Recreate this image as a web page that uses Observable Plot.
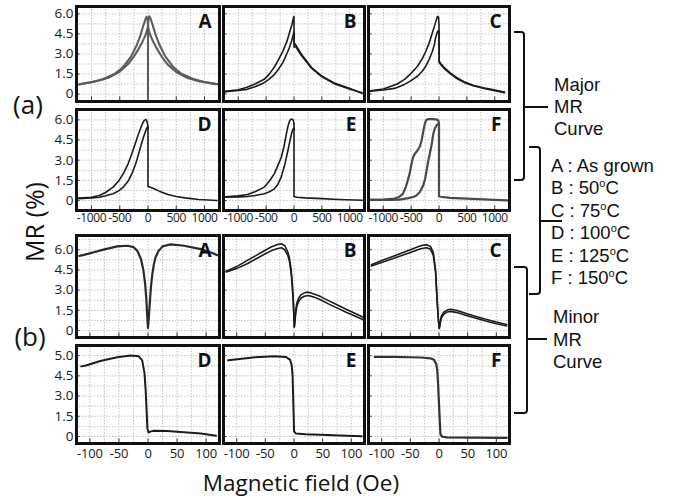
<!DOCTYPE html>
<html><head><meta charset="utf-8">
<script src="https://cdn.jsdelivr.net/npm/d3@7"></script>
<script src="https://cdn.jsdelivr.net/npm/@observablehq/plot@0.6"></script>
<style>
body{margin:0;background:#fff;}
#wrap{position:relative;width:675px;height:502px;overflow:hidden;background:#fff;}
#wrap svg{position:absolute;}
</style></head><body><div id="wrap"></div>
<script>
// ---------- tick labels ----------
const majorXTicks = [-1000, -500, 0, 500, 1000];
const majorXLabels = ["-1000", "-500", "0", "500", "1000"];
const minorXTicks = [-100, -50, 0, 50, 100];
const minorXLabels = ["-100", "-50", "0", "50", "100"];
const yTicks = [0, 1.5, 3, 4.5, 6];
const yLabelsRow1 = ["0", "1.5", "3.0", "4.5", "6.0"];
const yLabelsRow2 = ["0", "1.5", "3.0", "4.5", "6.0"];
const yLabelsRow3 = ["0", "1.5", "3.0", "4.5", "6.0"];
const yLabelsRow4 = ["0", "1.5", "3.0", "4.5", "5.0"];
const panelLetters = ["A", "B", "C", "D", "E", "F"];
const legendSamples = ["A", "B", "C", "D", "E", "F"];
const legendTemps = ["As grown", "50", "75", "100", "125", "150"];

// ---------- Major MR curves (field in Oe, MR in %) ----------
const majorA1 = [[-1250,0.7],[-1000,0.88],[-800,1.1],[-600,1.48],[-450,1.98],[-300,2.8],[-200,3.65],[-130,4.45],[-80,5.15],[-45,5.6],[-25,5.78],[-10,5.65],[0,5.1],[15,4.75],[50,4.3],[100,3.85],[170,3.3],[250,2.75],[350,2.2],[500,1.65],[700,1.2],[900,0.95],[1200,0.74]];
const majorA2 = [[-1200,0.74],[-900,0.97],[-700,1.22],[-500,1.68],[-350,2.25],[-250,2.8],[-170,3.35],[-100,3.9],[-50,4.35],[-15,4.8],[0,5.1],[10,5.7],[25,5.82],[45,5.65],[80,5.2],[130,4.5],[200,3.7],[300,2.85],[450,2.0],[600,1.5],[800,1.12],[1000,0.9],[1250,0.72]];
const majorASpike = [[0,5.05],[0,-0.35]];

const majorB1 = [[-1230,0.2],[-1000,0.32],[-840,0.5],[-700,0.75],[-535,1.1],[-450,1.45],[-355,2.0],[-280,2.55],[-200,3.2],[-130,3.9],[-80,4.6],[-40,5.15],[-10,5.7],[0,5.8],[2,3.7],[20,3.75],[130,3.0],[310,2.0],[495,1.35],[735,0.8],[980,0.45],[1220,0.05]];
const majorB2 = [[-1230,0.18],[-1000,0.26],[-840,0.35],[-700,0.55],[-535,0.85],[-450,1.1],[-355,1.45],[-280,1.85],[-200,2.35],[-130,3.0],[-80,3.5],[-40,4.0],[-10,4.5],[0,4.65],[2,3.5],[20,3.6],[130,2.9],[310,1.95],[495,1.3],[735,0.75],[980,0.4],[1220,0.1]];

const majorC1 = [[-1230,0.25],[-1000,0.38],[-900,0.52],[-750,0.75],[-618,1.1],[-500,1.55],[-382,2.1],[-300,2.65],[-235,3.2],[-170,3.9],[-118,4.6],[-80,5.1],[-59,5.4],[-29,5.8],[-8,5.75],[0,5.2],[3,2.45],[40,2.25],[100,1.95],[200,1.58],[320,1.22],[450,0.92],[610,0.66],[850,0.42],[1175,0.15]];
const majorC2 = [[-1230,0.22],[-1000,0.3],[-800,0.42],[-618,0.72],[-500,1.0],[-382,1.35],[-300,1.7],[-235,2.1],[-170,2.65],[-118,3.2],[-80,3.75],[-59,4.25],[-29,4.65],[-8,4.75],[0,4.6],[3,2.35],[40,2.15],[100,1.88],[200,1.52],[320,1.16],[450,0.87],[610,0.62],[850,0.38],[1175,0.1]];

const majorD1 = [[-1230,0.18],[-1000,0.25],[-860,0.37],[-750,0.6],[-618,1.0],[-520,1.45],[-436,2.0],[-350,2.75],[-285,3.5],[-220,4.3],[-164,5.0],[-110,5.6],[-73,5.92],[-45,6.02],[-25,5.98],[-10,5.75],[0,5.45]];
const majorD2 = [[-1230,0.14],[-1000,0.2],[-860,0.25],[-750,0.35],[-618,0.5],[-520,0.72],[-436,1.0],[-350,1.45],[-285,2.0],[-220,2.7],[-164,3.5],[-110,4.3],[-73,4.8],[-40,5.2],[-20,5.4],[-8,5.45],[0,5.35]];
const majorDRight = [[0,5.45],[0,1.05],[30,1.0],[109,0.87],[200,0.7],[351,0.45],[500,0.3],[655,0.2],[900,0.08],[1220,0.0]];

const majorE1 = [[-1230,0.28],[-1000,0.35],[-836,0.45],[-700,0.65],[-533,1.0],[-440,1.45],[-352,2.0],[-290,2.6],[-230,3.2],[-180,4.0],[-140,4.9],[-110,5.5],[-80,5.92],[-55,6.05],[-30,6.05],[-12,5.95],[0,5.7]];
const majorE2 = [[-1230,0.24],[-1000,0.27],[-836,0.3],[-700,0.38],[-533,0.5],[-440,0.65],[-352,0.87],[-290,1.2],[-230,1.74],[-170,2.6],[-110,3.7],[-70,4.5],[-40,5.05],[-20,5.3],[-8,5.35],[0,5.3]];
const majorERight = [[0,5.7],[0,0.3],[50,0.25],[200,0.2],[500,0.14],[800,0.08],[1230,0.02]];

const majorF1 = [[-1230,0.05],[-1000,0.07],[-830,0.12],[-720,0.25],[-648,0.5],[-600,0.95],[-560,1.5],[-527,2.0],[-495,2.7],[-467,3.2],[-430,3.5],[-390,3.7],[-345,4.0],[-310,4.5],[-280,5.2],[-255,5.7],[-230,5.98],[-200,6.05],[-120,6.05],[-60,6.03],[-25,6.0],[-8,5.9],[0,5.7]];
const majorF2 = [[-1230,0.05],[-900,0.05],[-709,0.07],[-550,0.18],[-450,0.28],[-406,0.37],[-340,0.65],[-285,1.1],[-250,1.6],[-224,2.2],[-195,2.9],[-164,3.5],[-130,4.2],[-103,4.95],[-75,5.35],[-42,5.6],[-15,5.68],[0,5.6]];
const majorFRight = [[0,5.7],[0,0.3],[30,0.28],[200,0.2],[600,0.12],[1000,0.05],[1230,0.02]];

// ---------- Minor MR curves ----------
const minorA = [[-118,5.55],[-110,5.62],[-82,5.95],[-53,6.25],[-35,6.3],[-25,6.2],[-18,5.9],[-12,5.3],[-8,4.5],[-5,3.5],[-3,2.4],[-1.5,1.2],[0,0.2],[1.5,1.0],[3,2.0],[5,3.2],[7.5,4.2],[10,4.9],[13,5.45],[18,5.9],[25,6.25],[39,6.4],[62,6.3],[91,6.05],[114,5.7],[119,5.6]];

const minorB1 = [[-118,4.4],[-100,4.75],[-80,5.25],[-65,5.6],[-51,5.95],[-40,6.2],[-30,6.38],[-22,6.45],[-16,6.3],[-11,5.85],[-8,5.4],[-5,4.5],[-3,3.5],[-1,2.0],[0.5,0.25],[1.7,0.8],[3,1.5],[5,2.05],[8,2.4],[12,2.65],[18,2.8],[25,2.85],[35,2.72],[46.5,2.52],[60,2.22],[75,1.92],[90,1.6],[105,1.3],[120,1.0]];
const minorB2 = [[-118,4.35],[-100,4.6],[-80,5.0],[-65,5.35],[-51,5.68],[-40,5.92],[-30,6.08],[-22,6.15],[-16,6.0],[-11,5.6],[-8,5.15],[-5,4.3],[-3,3.3],[-1,1.9],[0.5,0.25],[1.7,0.65],[3,1.3],[5,1.8],[8,2.15],[12,2.4],[18,2.55],[25,2.6],[35,2.48],[46.5,2.28],[60,1.98],[75,1.68],[90,1.38],[105,1.1],[120,0.82]];

const minorC1 = [[-118,4.88],[-100,5.2],[-75,5.6],[-50,6.0],[-32,6.3],[-22,6.38],[-15,6.25],[-10,5.8],[-6,4.5],[-3,2.1],[-1,0.8],[0.5,0.15],[2,0.6],[4,1.05],[8,1.35],[14,1.52],[20,1.58],[30,1.5],[45,1.3],[60,1.1],[80,0.85],[100,0.63],[118,0.45]];
const minorC2 = [[-118,4.8],[-100,5.05],[-75,5.42],[-50,5.8],[-32,6.08],[-22,6.15],[-15,6.05],[-10,5.6],[-6,4.35],[-3,2.0],[-1,0.75],[0.5,0.15],[2,0.5],[4,0.9],[8,1.2],[14,1.37],[20,1.42],[30,1.35],[45,1.16],[60,0.96],[80,0.72],[100,0.5],[118,0.33]];

const minorD = [[-115,5.2],[-107,5.27],[-82,5.6],[-53,5.88],[-30,6.0],[-16,5.95],[-10,5.65],[-6,4.7],[-4,3.4],[-2.5,2.0],[-1,0.6],[1,0.3],[4,0.36],[10,0.42],[33,0.4],[62,0.32],[91,0.22],[117,0.06]];
const minorE = [[-115,5.65],[-95,5.75],[-68,5.88],[-34,5.95],[-14,5.9],[-7,5.7],[-4,5.3],[-2.5,4.5],[-1.5,3.0],[-0.5,1.5],[0,0.4],[3,0.22],[20,0.17],[46.5,0.13],[80,0.08],[118,0.02]];
const minorF = [[-112,5.9],[-80,5.9],[-50,5.88],[-32,5.86],[-15,5.8],[-9,5.7],[-5,5.4],[-3,4.9],[-1.5,3.8],[0,2.4],[1.5,1.0],[2.6,0.15],[6,-0.02],[14,-0.07],[60,-0.08],[118,-0.1]];

// ---------- layout ----------
const colX = [[76, 219], [223, 364], [368, 509]];
const rowY = [[6, 101], [109, 210], [235, 337], [345, 443]];
const yDomains = [[-0.56, 6.55], [-0.74, 6.77], [-0.52, 7.06], [-0.52, 6.75]];
const yLabelRows = [yLabelsRow1, yLabelsRow2, yLabelsRow3, yLabelsRow4];
const majorGridX = [-1250,-1000,-750,-500,-250,0,250,500,750,1000,1250];
const minorGridX = [-125,-100,-75,-50,-25,0,25,50,75,100,125];
const gridY = [0,0.75,1.5,2.25,3,3.75,4.5,5.25,6,6.75];

const DARK = "#1c1c1c";
const panels = [
  {row:0,col:0,curves:[majorA1,majorA2,majorASpike],stroke:"#5c5c5c",sw:2.1},
  {row:0,col:1,curves:[majorB1,majorB2],stroke:DARK,sw:1.6},
  {row:0,col:2,curves:[majorC1,majorC2],stroke:DARK,sw:1.6},
  {row:1,col:0,curves:[majorD1,majorD2,majorDRight],stroke:DARK,sw:1.6},
  {row:1,col:1,curves:[majorE1,majorE2,majorERight],stroke:DARK,sw:1.6},
  {row:1,col:2,curves:[majorF1,majorF2,majorFRight],stroke:"#4a4a4a",sw:2.2},
  {row:2,col:0,curves:[minorA],stroke:"#2a2a2a",sw:2.2},
  {row:2,col:1,curves:[minorB1,minorB2],stroke:DARK,sw:1.6},
  {row:2,col:2,curves:[minorC1,minorC2],stroke:DARK,sw:1.6},
  {row:3,col:0,curves:[minorD],stroke:DARK,sw:2.0},
  {row:3,col:1,curves:[minorE],stroke:DARK,sw:2.0},
  {row:3,col:2,curves:[minorF],stroke:"#333",sw:2.2}
];

const wrap = document.getElementById("wrap");

panels.forEach(p => {
  const [x0, x1] = colX[p.col];
  const [y0, y1] = rowY[p.row];
  const major = p.row < 2;
  const xdom = major ? [-1265, 1265] : [-123, 123];
  const ydom = yDomains[p.row];
  const showX = p.row === 1 || p.row === 3;
  const showY = p.col === 0;
  const mL = showY ? 34 : 3, mR = 3, mT = 3, mB = showX ? 24 : 3;
  const pw = x1 - x0, ph = y1 - y0;
  const ppu = ph / (ydom[1] - ydom[0]);
  const ppx = pw / (xdom[1] - xdom[0]);
  const xt = major ? majorXTicks : minorXTicks;
  const xl = major ? majorXLabels : minorXLabels;
  const gx = major ? majorGridX : minorGridX;
  const yl = yLabelRows[p.row];
  const letter = panelLetters[p.row % 2 * 3 + p.col];
  const gridStyle = {stroke: "#c4c4c4", strokeDasharray: "1.5,1.5", strokeWidth: 1};
  const marks = [
    Plot.ruleX(gx.filter(v => v > xdom[0] && v < xdom[1]), {x: d => d, ...gridStyle}),
    Plot.ruleY(gridY.filter(v => v > ydom[0] && v < ydom[1]), {y: d => d, ...gridStyle}),
    Plot.ruleX(xt, {x: d => d, y1: () => ydom[0], y2: () => ydom[0] + 4.5 / ppu, stroke: "#333", strokeWidth: 1}),
    Plot.ruleY(yTicks, {y: d => d, x1: () => xdom[0], x2: () => xdom[0] + 3.5 / ppx, stroke: "#333", strokeWidth: 1}),
    ...p.curves.map(c => Plot.line(c, {x: d => d[0], y: d => d[1], stroke: p.stroke, strokeWidth: p.sw, strokeLinejoin: "round"})),
    Plot.text([letter], {frameAnchor: "top-right", lineAnchor: "top", dx: -8, dy: 8, fontSize: 19, fontWeight: "bold", fill: "#111", fontFamily: "Open Sans"}),
    Plot.frame({stroke: "#111", strokeWidth: 3})
  ];
  const svg = Plot.plot({
    width: pw + mL + mR, height: ph + mT + mB,
    marginLeft: mL, marginRight: mR, marginTop: mT, marginBottom: mB,
    style: {fontFamily: "Open Sans", fontSize: "13.5px", color: "#1a1a1a", background: "transparent"},
    x: {domain: xdom, axis: showX ? "bottom" : null, ticks: xt, tickSize: 0, tickPadding: p.row === 1 ? 3 : 5, tickFormat: d => xl[xt.indexOf(d)], label: null},
    y: {domain: ydom, axis: showY ? "left" : null, ticks: yTicks, tickSize: 0, tickPadding: 3, tickFormat: d => yl[yTicks.indexOf(d)], label: null},
    marks
  });
  // narrower x tick labels, as in the reference
  d3.select(svg).selectAll('g[aria-label^="x-axis"] text')
    .style("font-size", major ? "12px" : "13px")
    .style("letter-spacing", major ? "-0.4px" : "-0.2px");
  svg.style.left = (x0 - mL) + "px";
  svg.style.top = (y0 - mT) + "px";
  wrap.appendChild(svg);
});

// ---------- overlay: labels and braces ----------
const ov = d3.select(wrap).append("svg")
  .attr("width", 675).attr("height", 502)
  .style("left", "0px").style("top", "0px")
  .style("pointer-events", "none");

const sans = "Open Sans";
const arial = "Liberation Sans";

ov.append("text").attr("x", 28).attr("y", 114).attr("text-anchor", "middle")
  .attr("font-family", sans).attr("font-size", 26).attr("fill", "#111").text("(a)");
ov.append("text").attr("x", 30).attr("y", 346).attr("text-anchor", "middle")
  .attr("font-family", sans).attr("font-size", 26).attr("fill", "#111").text("(b)");
ov.append("text").attr("transform", "translate(44,222) rotate(-90)").attr("text-anchor", "middle")
  .attr("font-family", sans).attr("font-size", 25).attr("fill", "#111").text("MR (%)");
ov.append("text").attr("x", 301).attr("y", 491).attr("text-anchor", "middle")
  .attr("font-family", sans).attr("font-size", 22.5).attr("fill", "#111").text("Magnetic field (Oe)");

const braceStyle = s => s.attr("fill", "none").attr("stroke", "#111").attr("stroke-width", 2);
braceStyle(ov.append("path").attr("d", "M514,32 L521,32 Q524,32 524,35 L524,177 Q524,180 521,180 L514,180 M524,107 L548,107"));
braceStyle(ov.append("path").attr("d", "M529,147 L537,147 Q540,147 540,150 L540,291 Q540,294 537,294 L529,294 M540,221 L562,221"));
braceStyle(ov.append("path").attr("d", "M514,267 L524,267 Q527,267 527,270 L527,410 Q527,413 524,413 L514,413 M527,339 L547,339"));

const lines = (words, x, y0, dy) => words.forEach((w, i) =>
  ov.append("text").attr("x", x).attr("y", y0 + i * dy).attr("font-family", arial)
    .attr("font-size", 18.5).attr("fill", "#111").text(w));
lines(["Major", "MR", "Curve"], 554, 91, 22);
lines(["Minor", "MR", "Curve"], 553, 323, 22.5);

legendSamples.forEach((s, i) => {
  const t = ov.append("text").attr("x", 551).attr("y", 172 + i * 22.4)
    .attr("font-family", arial).attr("font-size", 18.5).attr("fill", "#111");
  if (i === 0) {
    t.text(s + " : " + legendTemps[i]);
  } else {
    t.append("tspan").text(s + " : " + legendTemps[i]);
    t.append("tspan").attr("font-size", 11).attr("dy", -7).text("o");
    t.append("tspan").attr("dy", 7).text("C");
  }
});
</script>
</body></html>
